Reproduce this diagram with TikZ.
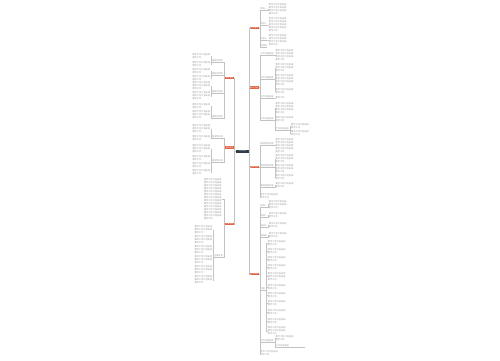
\documentclass[tikz,border=0pt]{standalone}
\usepackage{fontspec}
\newfontfamily\cjk{Noto Sans CJK SC}
\ExplSyntaxOn
\cs_new:Npn \tx #1 { \prg_replicate:nn {#1 - 1} {教学工作计划安排\\} 教学工作 }
\ExplSyntaxOff
\definecolor{branchc}{HTML}{E2603F}
\definecolor{centerc}{HTML}{2E3B4A}
\definecolor{linec}{HTML}{C2C2C2}
\definecolor{txtc}{HTML}{9A9A9A}
\tikzset{
  conn/.style={draw=linec, line width=0.3pt},
  leaf/.style={font=\cjk\fontsize{2.2}{3}\selectfont, text=txtc, align=left, inner sep=0.2pt},
  rleaf/.style={leaf, anchor=west},
  lleaf/.style={leaf, anchor=east},
  mid/.style={font=\cjk\fontsize{2.2}{3}\selectfont, text=txtc, inner sep=0.3pt,
    append after command={(\tikzlastnode.south west) edge[conn] (\tikzlastnode.south east)}},
  rmid/.style={mid, anchor=south west},
  lmid/.style={mid, anchor=south east},
  branch/.style={fill=branchc, text=white, font=\cjk\fontsize{1.8}{2}\selectfont, minimum width=9pt, minimum height=2.6pt, inner sep=0pt},
  hub/.style={fill=centerc, text=white, font=\cjk\fontsize{1.8}{2}\selectfont, minimum width=13pt, minimum height=3pt, inner sep=0pt},
}
\newcommand\rc[2]{\draw[conn] (#1) -- ++(0.8,0) |- (#2);}
\newcommand\lc[2]{\draw[conn] (#1) -- ++(-0.8,0) |- (#2);}
\begin{document}
\begin{tikzpicture}[x=1pt,y=-1pt]
\useasboundingbox[fill=white] (0,0) rectangle (500,360);
% hub and branches
\node[hub] (C) at (242,151) {工作计划};
\node[branch] (R1) at (254.5,28) {工作目标};
\node[branch] (R2) at (254.5,87.5) {工作内容};
\node[branch] (R3) at (254.5,167) {具体措施};
\node[branch] (R4) at (254.5,274) {工作安排};
\node[branch] (L1) at (229.5,78) {指导思想};
\node[branch] (L2) at (229.5,147.5) {基本情况};
\node[branch] (L3) at (229.5,224) {主要任务};
\foreach \r in {R1,R2,R3,R4} {\rc{C.east}{\r.west}}
\foreach \l in {L1,L2,L3} {\lc{C.west}{\l.east}}
% R1
\node[rmid] (a1) at (259.8,10) {目标一};
\node[rmid] (a2) at (259.8,25) {目标二};
\node[rmid] (a3) at (259.8,40) {目标三};
\node[rmid] (a4) at (259.8,47) {目标四};
\node[rleaf] (a1l) at (268.5,9) {\tx{4}};
\node[rleaf] (a2l) at (268.5,25) {\tx{5}};
\node[rleaf] (a3l) at (268.5,40) {\tx{4}};
\foreach \m in {a1,a2,a3,a4} {\rc{R1.east}{\m.south west}}
\rc{a1.south east}{a1l.west}
\rc{a2.south east}{a2l.west}
\rc{a3.south east}{a3l.west}
% R2
\node[rmid] (b1) at (259.8,55) {工作内容安排};
\node[rmid] (b2) at (259.8,79) {工作内容安排};
\node[rmid] (b3) at (259.8,98) {工作内容安排};
\node[rmid] (b4) at (259.8,120) {工作内容安排};
\foreach \m in {b1,b2,b3,b4} {\rc{R2.east}{\m.south west}}
\node[rleaf] (b1l) at (275.2,55.5) {\tx{4}};
\node[rleaf] (b2l1) at (275.2,68) {\tx{3}};
\node[rleaf] (b2l2) at (275.2,80) {\tx{4}};
\node[rleaf] (b2l3) at (275.2,91) {\tx{2}};
\node[rleaf] (b3l) at (275.2,98) {\tx{1}};
\node[rleaf] (b4l1) at (275.2,108.5) {\tx{4}};
\node[rleaf] (b4l2) at (275.2,119) {\tx{2}};
\node[rmid] (b4m) at (275.2,130) {工作内容安排};
\node[rleaf] (b4m1) at (290.8,126) {\tx{2}};
\node[rleaf] (b4m2) at (290.8,133.5) {\tx{2}};
\rc{b1.south east}{b1l.west}
\foreach \c in {b2l1,b2l2,b2l3} {\rc{b2.south east}{\c.west}}
\rc{b3.south east}{b3l.west}
\foreach \c in {b4l1,b4l2} {\rc{b4.south east}{\c.west}}
\rc{b4.south east}{b4m.south west}
\foreach \c in {b4m1,b4m2} {\rc{b4m.south east}{\c.west}}
% R3
\node[rmid] (c1) at (259.8,145) {具体措施内容};
\node[rmid] (c2) at (259.8,167) {具体措施内容};
\node[rmid] (c3) at (259.8,187) {具体措施内容};
\node[rleaf] (c4) at (259.8,196) {\tx{2}};
\foreach \m in {c1,c2,c3} {\rc{R3.east}{\m.south west}}
\rc{R3.east}{c4.west}
\node[rleaf] (c1l) at (275.2,145.5) {\tx{5}};
\node[rleaf] (c2l1) at (275.2,159) {\tx{3}};
\node[rleaf] (c2l2) at (275.2,169) {\tx{3}};
\node[rleaf] (c2l3) at (275.2,177.5) {\tx{2}};
\node[rleaf] (c3l) at (275.2,185) {\tx{2}};
\rc{c1.south east}{c1l.west}
\foreach \c in {c2l1,c2l2,c2l3} {\rc{c2.south east}{\c.west}}
\rc{c3.south east}{c3l.west}
% R4
\node[rmid] (d1) at (259.8,207) {安排一};
\node[rmid] (d2) at (259.8,217) {安排二};
\node[rmid] (d3) at (259.8,227) {安排三};
\node[rmid] (d4) at (259.8,237) {安排四};
\node[rmid] (d5) at (259.8,290) {内容};
\node[rmid] (d6) at (259.8,342) {工作内容安排};
\node[rleaf] (d7) at (259.8,353) {\tx{2}};
\foreach \m in {d1,d2,d3,d4,d5,d6} {\rc{R4.east}{\m.south west}}
\rc{R4.east}{d7.west}
\node[rleaf] (d1l) at (268.5,204.5) {\tx{3}};
\node[rleaf] (d2l) at (268.5,215) {\tx{2}};
\node[rleaf] (d3l) at (268.5,225) {\tx{2}};
\node[rleaf] (d4l) at (268.5,235) {\tx{2}};
\rc{d1.south east}{d1l.west}
\rc{d2.south east}{d2l.west}
\rc{d3.south east}{d3l.west}
\rc{d4.south east}{d4l.west}
\foreach \y/\n [count=\i] in {243/2,251/2,259/2,267/2,276.5/3,287/2,295/2,303.5/2,312/2,321/2,331/3} {
  \node[rleaf] (d5l\i) at (267.5,\y) {\tx{\n}};
  \rc{d5.south east}{d5l\i.west}
}
\node[rleaf] (d6l) at (275.2,338.5) {\tx{2}};
\node[rmid] (d6m) at (275.2,347) {工作内容安排};
\coordinate (d6e) at (305,347);
\rc{d6.south east}{d6l.west}
\rc{d6.south east}{d6m.south west}
\draw[conn] (d6m.south east) -- (d6e);
% L1
\node[lmid] (e1) at (223.5,62) {指导思想内};
\node[lmid] (e2) at (223.5,75) {指导思想内};
\node[lmid] (e3) at (223.5,93) {指导思想内};
\node[lmid] (e4) at (223.5,118) {指导思想内};
\foreach \m in {e1,e2,e3,e4} {\lc{L1.west}{\m.south east}}
\node[lleaf] (e1l1) at (210.5,56.5) {\tx{2}};
\node[lleaf] (e1l2) at (210.5,64) {\tx{2}};
\node[lleaf] (e2l1) at (210.5,71) {\tx{2}};
\node[lleaf] (e2l2) at (210.5,78) {\tx{2}};
\node[lleaf] (e3l1) at (210.5,86) {\tx{3}};
\node[lleaf] (e3l2) at (210.5,96) {\tx{3}};
\node[lleaf] (e4l1) at (210.5,106) {\tx{2}};
\node[lleaf] (e4l2) at (210.5,115) {\tx{3}};
\foreach \c in {e1l1,e1l2} {\lc{e1.south west}{\c.east}}
\foreach \c in {e2l1,e2l2} {\lc{e2.south west}{\c.east}}
\foreach \c in {e3l1,e3l2} {\lc{e3.south west}{\c.east}}
\foreach \c in {e4l1,e4l2} {\lc{e4.south west}{\c.east}}
% L2
\node[lmid] (f1) at (223.5,138) {基本情况内};
\node[lmid] (f2) at (223.5,162) {基本情况内};
\foreach \m in {f1,f2} {\lc{L2.west}{\m.south east}}
\node[lleaf] (f1l1) at (210.5,129) {\tx{3}};
\node[lleaf] (f1l2) at (210.5,138) {\tx{2}};
\node[lleaf] (f2l1) at (210.5,149) {\tx{3}};
\node[lleaf] (f2l2) at (210.5,158.5) {\tx{2}};
\node[lleaf] (f2l3) at (210.5,165.5) {\tx{2}};
\node[lleaf] (f2l4) at (210.5,172.5) {\tx{2}};
\foreach \c in {f1l1,f1l2} {\lc{f1.south west}{\c.east}}
\foreach \c in {f2l1,f2l2,f2l3,f2l4} {\lc{f2.south west}{\c.east}}
% L3
\node[lleaf] (g1) at (222,199) {\tx{14}};
\node[lmid] (g2) at (223.5,257) {主要任务};
\lc{L3.west}{g1.east}
\lc{L3.west}{g2.south east}
\foreach \y [count=\i] in {230,240,250,260,270,280} {
  \node[lleaf] (g2l\i) at (212.5,\y) {\tx{3}};
  \lc{g2.south west}{g2l\i.east}
}
\end{tikzpicture}
\end{document}
